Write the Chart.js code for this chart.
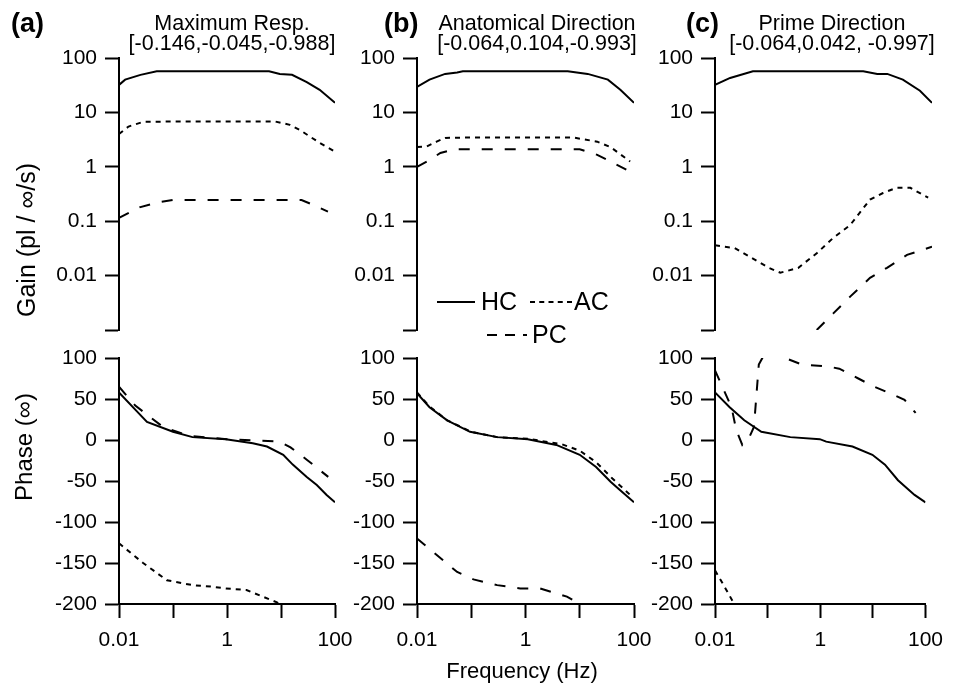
<!DOCTYPE html>
<html>
<head>
<meta charset="utf-8">
<script src="https://cdn.jsdelivr.net/npm/chart.js@4.4.1/dist/chart.umd.min.js"></script>
<style>
  html, body { margin: 0; padding: 0; background: #fff; }
  #wrap { position: relative; width: 953px; height: 687px; }
  #wrap canvas { position: absolute; left: 0; top: 0; }
</style>
</head>
<body>
<div id="wrap">
  <canvas id="gainA" width="953" height="687"></canvas>
  <canvas id="gainB" width="953" height="687"></canvas>
  <canvas id="gainC" width="953" height="687"></canvas>
  <canvas id="phaseA" width="953" height="687"></canvas>
  <canvas id="phaseB" width="953" height="687"></canvas>
  <canvas id="phaseC" width="953" height="687"></canvas>
</div>
<script>
// ---- panel text ----
const panelLetters = ["(a)", "(b)", "(c)"];
const panelNames = ["Maximum Resp.", "Anatomical Direction", "Prime Direction"];
const panelVectors = ["[-0.146,-0.045,-0.988]", "[-0.064,0.104,-0.993]", "[-0.064,0.042, -0.997]"];

// ---- axis ticks ----
const freqTicks = [0.01, 0.1, 1, 10, 100];
const freqTickLabels = [0.01, 1, 100];
const gainTicks = [0.001, 0.01, 0.1, 1, 10, 100];
const phaseTicks = [-200, -150, -100, -50, 0, 50, 100];

// ---- (a) Maximum Resp. : gain ----
const freqGainA_HC = [0.01, 0.013, 0.025, 0.05, 0.1, 0.3, 1, 3, 6, 9.5, 16, 30, 52, 100];
const gainA_HC = [32, 40, 49, 57, 57, 57, 57, 57, 57, 51, 49, 36, 26, 15];
const freqGainA_AC = [0.01, 0.015, 0.028, 0.1, 1, 7.8, 14.6, 22, 52, 100];
const gainA_AC = [4.0, 5.5, 6.7, 6.8, 6.8, 6.8, 5.9, 4.8, 2.75, 1.9];
const freqGainA_PC = [0.01, 0.024, 0.05, 0.1, 1, 10, 24, 39, 74];
const gainA_PC = [0.115, 0.18, 0.22, 0.245, 0.245, 0.245, 0.245, 0.2, 0.15];

// ---- (b) Anatomical Direction : gain ----
const freqGainB_HC = [0.01, 0.017, 0.033, 0.055, 0.07, 1, 6, 14, 33, 56, 100];
const gainB_HC = [29.5, 40, 51, 54, 57, 57, 57, 51, 40, 26, 15];
const freqGainB_AC = [0.01, 0.015, 0.023, 0.033, 0.1, 1, 7.6, 21, 37, 85];
const gainB_AC = [2.3, 2.35, 2.9, 3.4, 3.45, 3.45, 3.45, 2.9, 2.3, 1.25];
const freqGainB_PC = [0.01, 0.017, 0.027, 0.05, 1, 10, 21, 75];
const gainB_PC = [1.0, 1.33, 1.8, 2.1, 2.1, 2.1, 1.66, 0.87];

// ---- (c) Prime Direction : gain ----
const freqGainC_HC = [0.01, 0.019, 0.05, 1, 5.4, 9.8, 15, 29, 60, 100];
const gainC_HC = [32, 43, 57, 57, 57, 51, 51, 40, 25, 15];
const freqGainC_AC = [0.01, 0.023, 0.044, 0.1, 0.16, 0.34, 0.76, 1.5, 3.1, 7.2, 12.5, 22, 40, 53, 85];
const gainC_AC = [0.036, 0.032, 0.022, 0.0138, 0.0113, 0.0138, 0.026, 0.049, 0.085, 0.25, 0.33, 0.41, 0.41, 0.35, 0.27];
const freqGainC_PC = [0.75, 1.5, 3.1, 7.2, 14.8, 34.6, 100];
const gainC_PC = [0.001, 0.002, 0.0041, 0.0091, 0.0139, 0.024, 0.034];

// ---- phase ----
const freqPhaseA_HC = [0.01, 0.02, 0.033, 0.1, 0.23, 0.95, 3, 5.5, 11, 16.5, 30, 46, 70, 100];
const phaseA_HC = [58, 37, 22, 10, 3.5, 1, -4, -8, -18, -30, -45, -55, -67, -76];
const freqPhaseA_AC = [0.01, 0.028, 0.077, 0.23, 0.55, 0.95, 2.3, 4.6, 8.4, 12];
const phaseA_AC = [-126, -150, -171, -177, -179, -181, -183, -191, -198, -205];
const freqPhaseA_PC = [0.01, 0.02, 0.065, 0.2, 1, 9.5, 15, 30, 75];
const phaseA_PC = [65, 42, 16, 5, 1, -2, -9, -24, -45];

const freqPhaseB_HC = [0.01, 0.017, 0.036, 0.095, 0.3, 1.1, 3.7, 10, 20, 37, 55, 100];
const phaseB_HC = [57, 40, 24, 10, 3.5, 1, -6, -18, -33, -51, -61, -76];
const freqPhaseB_AC = [0.01, 0.017, 0.036, 0.1, 0.3, 1.1, 4.6, 10, 20, 40, 85];
const phaseB_AC = [58, 41, 24, 10, 3.5, 1.5, -5, -13, -27, -47, -67];
const freqPhaseB_PC = [0.01, 0.055, 0.11, 0.3, 0.8, 1.85, 5.8, 10];
const phaseB_PC = [-120, -161, -170, -177, -181, -181, -191, -200];

const freqPhaseC_HC = [0.01, 0.019, 0.036, 0.076, 0.27, 0.98, 1.3, 4.1, 9.8, 17, 30, 62, 100];
const phaseC_HC = [58, 40, 24, 10, 3.5, 1, -2, -8, -18, -30, -49, -67, -76];
const freqPhaseC_AC = [0.01, 0.014, 0.021, 0.025];
const phaseC_AC = [-159, -175, -195, -205];
const freqPhaseC_PC = [0.01, 0.0206, 0.0254, 0.033, 0.044, 0.055, 0.068, 0.1, 0.195, 0.45, 1.3, 2.3, 5.3, 9.8, 23, 40, 65];
const phaseC_PC = [85, 40, 12, -6, 2, 16, 92, 112, 101, 92, 90, 87, 75, 66, 56, 49, 33];

// ---- layout ----
const FONT = "'Liberation Sans', Arial, Helvetica, sans-serif";
const W = 953, H = 687;
const Y_W = 100, X_H = 60;
const cols = [{left: 119, right: 335}, {left: 417, right: 634}, {left: 715, right: 932}];
const rows = {gain: {top: 58, bottom: 330}, phase: {top: 358, bottom: 604}};
const dashes = {HC: [], AC: [5, 5], PC: [11, 12]};
const legendDashes = {HC: [], AC: [5, 4.25], PC: [10, 8]};

Chart.defaults.font.family = FONT;
Chart.defaults.color = "#000";

function series(label, freqs, values) {
  return {
    label,
    data: freqs.map((f, i) => ({x: f, y: values[i]})),
    borderColor: "#000",
    borderWidth: 2,
    borderDash: dashes[label],
    pointRadius: 0,
    fill: false,
    tension: 0
  };
}

function axisStyle() {
  return {
    grid: {drawOnChartArea: false, drawTicks: true, tickLength: 14, tickWidth: 2, tickColor: "#000"},
    border: {display: true, color: "#000", width: 2}
  };
}

function makePanel(id, col, rowName, datasets, plugins) {
  let row = rows[rowName];
  let isGain = rowName === "gain";
  let y = isGain
    ? {type: "logarithmic", min: 0.001, max: 100, ticks: gainTicks,
       label: v => (v === 0.001 ? "" : String(v))}
    : {type: "linear", min: -200, max: 100, ticks: phaseTicks, label: v => String(v)};

  return new Chart(document.getElementById(id), {
    type: "line",
    data: {datasets},
    plugins: plugins || [],
    options: {
      responsive: false,
      animation: false,
      events: [],
      layout: {padding: {
        left: col.left - Y_W,
        right: W - col.right,
        top: row.top,
        bottom: isGain ? H - row.bottom : H - row.bottom - X_H
      }},
      plugins: {legend: {display: false}, tooltip: {enabled: false}},
      scales: {
        x: {
          type: "logarithmic", min: 0.01, max: 100, display: !isGain,
          afterBuildTicks: s => { s.ticks = freqTicks.map(v => ({value: v})) },
          afterFit: s => { s.height = isGain ? 0 : X_H },
          ticks: {autoSkip: false, maxRotation: 0, padding: 10, font: {size: 21},
                  callback: v => (freqTickLabels.includes(v) ? String(v) : "")},
          ...axisStyle()
        },
        y: {
          type: y.type, min: y.min, max: y.max,
          afterBuildTicks: s => { s.ticks = y.ticks.map(v => ({value: v})) },
          afterFit: s => { s.width = Y_W },
          ticks: {autoSkip: false, padding: 8, font: {size: 21}, callback: y.label},
          ...axisStyle()
        }
      }
    }
  });
}

// legend drawn inside panel (b), taken from the gain datasets
const legendPlugin = {
  id: "hcLegend",
  afterDraw(chart) {
    let ctx = chart.ctx;
    let spots = {
      HC: {x0: 437, x1: 475, y: 302, tx: 481},
      AC: {x0: 530, x1: 572, y: 302, tx: 574},
      PC: {x0: 487, x1: 527, y: 335, tx: 532}
    };
    ctx.save();
    ctx.font = "25px " + FONT;
    ctx.fillStyle = "#000";
    ctx.strokeStyle = "#000";
    ctx.lineWidth = 2;
    ctx.textBaseline = "middle";
    chart.data.datasets.forEach(ds => {
      let s = spots[ds.label];
      ctx.setLineDash(legendDashes[ds.label]);
      ctx.beginPath();
      ctx.moveTo(s.x0, s.y);
      ctx.lineTo(s.x1, s.y);
      ctx.stroke();
      ctx.fillText(ds.label, s.tx, s.y + 1);
    });
    ctx.restore();
  }
};

// titles and axis labels
const textPlugin = {
  id: "figureText",
  afterDraw(chart) {
    let ctx = chart.ctx;
    let titleX = [232, 537, 832];
    let letterX = [11, 384, 686];
    ctx.save();
    ctx.fillStyle = "#000";
    ctx.textBaseline = "alphabetic";
    panelLetters.forEach((t, i) => {
      ctx.font = "bold 27px " + FONT;
      ctx.textAlign = "left";
      ctx.fillText(t, letterX[i], 32);
      ctx.font = "21.5px " + FONT;
      ctx.textAlign = "center";
      ctx.fillText(panelNames[i], titleX[i], 30);
      ctx.fillText(panelVectors[i], titleX[i], 50);
    });

    ctx.font = "22px " + FONT;
    ctx.textAlign = "center";
    ctx.fillText("Frequency (Hz)", 522, 678);

    ctx.textBaseline = "middle";
    [["Gain (pl / \u221e/s)", 28, 240, 25], ["Phase (\u221e)", 25, 447, 24]].forEach(([t, x, yy, size]) => {
      ctx.save();
      ctx.translate(x, yy);
      ctx.rotate(-Math.PI / 2);
      ctx.font = size + "px " + FONT;
      ctx.fillText(t, 0, 0);
      ctx.restore();
    });
    ctx.restore();
  }
};

makePanel("gainA", cols[0], "gain", [
  series("HC", freqGainA_HC, gainA_HC),
  series("AC", freqGainA_AC, gainA_AC),
  series("PC", freqGainA_PC, gainA_PC)
]);
makePanel("gainB", cols[1], "gain", [
  series("HC", freqGainB_HC, gainB_HC),
  series("AC", freqGainB_AC, gainB_AC),
  series("PC", freqGainB_PC, gainB_PC)
], [legendPlugin]);
makePanel("gainC", cols[2], "gain", [
  series("HC", freqGainC_HC, gainC_HC),
  series("AC", freqGainC_AC, gainC_AC),
  series("PC", freqGainC_PC, gainC_PC)
]);
makePanel("phaseA", cols[0], "phase", [
  series("HC", freqPhaseA_HC, phaseA_HC),
  series("AC", freqPhaseA_AC, phaseA_AC),
  series("PC", freqPhaseA_PC, phaseA_PC)
]);
makePanel("phaseB", cols[1], "phase", [
  series("HC", freqPhaseB_HC, phaseB_HC),
  series("AC", freqPhaseB_AC, phaseB_AC),
  series("PC", freqPhaseB_PC, phaseB_PC)
]);
makePanel("phaseC", cols[2], "phase", [
  series("HC", freqPhaseC_HC, phaseC_HC),
  series("AC", freqPhaseC_AC, phaseC_AC),
  series("PC", freqPhaseC_PC, phaseC_PC)
], [textPlugin]);
</script>
</body>
</html>
